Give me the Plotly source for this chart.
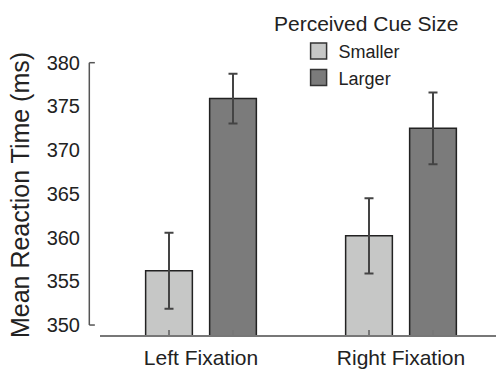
import plotly.graph_objects as go

conditions = ["Left Fixation", "Right Fixation"]
cue_sizes = ["Smaller", "Larger"]
smaller_means = [356.2, 360.2]
smaller_errors = [4.35, 4.3]
larger_means = [375.9, 372.5]
larger_errors = [2.85, 4.1]
y_ticks = [350, 355, 360, 365, 370, 375, 380]

bar_colors = ["#c6c7c6", "#7b7b7b"]
FONT = "Liberation Sans, Arial, sans-serif"
TXT = "#222222"

Y_RANGE = [348.86, 380.88]
bargap = 0.36
bargroupgap = 0.27
x_pos = list(range(len(conditions)))
offset = (1 - bargap) / 4
bar_centers = [p + s * offset for p in x_pos for s in (-1, 1)]

fig = go.Figure()
for name, means, errs, color in zip(cue_sizes, [smaller_means, larger_means],
                                    [smaller_errors, larger_errors], bar_colors):
    fig.add_trace(go.Bar(
        x=x_pos, y=means, name=name, showlegend=False,
        marker=dict(color=color, line=dict(color="#222222", width=1.5)),
        error_y=dict(type="data", array=errs, visible=True, color="#444444",
                     thickness=2, width=4.5)))
    fig.add_trace(go.Scatter(
        x=[None], y=[None], mode="markers", name=name, xaxis="x2",
        marker=dict(symbol="square", size=16, color=color,
                    line=dict(color="#333333", width=1.5))))


def to_paper(v):
    return (v - Y_RANGE[0]) / (Y_RANGE[1] - Y_RANGE[0])


# y-axis bracket spanning the tick range
yb0, yb1 = to_paper(y_ticks[0]), to_paper(y_ticks[-1])
bx0, bx1 = -0.027, -0.013
bracket = dict(color="#555555", width=1.5)
fig.add_shape(type="line", xref="paper", yref="paper", x0=bx0, x1=bx0,
              y0=yb0, y1=yb1, line=bracket)
fig.add_shape(type="line", xref="paper", yref="paper", x0=bx0, x1=bx1,
              y0=yb0, y1=yb0, line=bracket)
fig.add_shape(type="line", xref="paper", yref="paper", x0=bx0, x1=bx1,
              y0=yb1, y1=yb1, line=bracket)

fig.add_annotation(text="Perceived Cue Size", xref="paper", yref="paper",
                   x=0.435, y=1.114, xanchor="left", yanchor="middle",
                   showarrow=False, font=dict(size=21, color=TXT, family=FONT))

fig.update_layout(
    width=496, height=370,
    margin=dict(l=100, r=0, t=55, b=35, autoexpand=False),
    paper_bgcolor="white", plot_bgcolor="white",
    barmode="group", bargap=bargap, bargroupgap=bargroupgap,
    font=dict(family=FONT, color=TXT),
    legend=dict(x=0.5015, y=1.079, xanchor="left", yanchor="top",
                font=dict(size=18, color=TXT, family=FONT),
                bgcolor="rgba(0,0,0,0)", itemwidth=30),
    xaxis=dict(range=[-0.505, 1.475], tickvals=x_pos, ticktext=conditions,
               showline=True, linecolor="#777777", linewidth=2,
               ticks="outside", ticklen=3, tickcolor="rgba(0,0,0,0)",
               automargin=False, showgrid=False, zeroline=False,
               tickfont=dict(size=21, color=TXT, family=FONT)),
    xaxis2=dict(overlaying="x", matches="x", anchor="y", side="bottom",
                tickvals=bar_centers, ticks="inside", ticklen=5,
                tickcolor="#777777", tickwidth=1.5, showticklabels=False,
                showline=False, showgrid=False, zeroline=False),
    yaxis=dict(range=Y_RANGE, tickvals=y_ticks, automargin=False,
               ticks="outside", ticklen=15, tickcolor="rgba(0,0,0,0)",
               showline=False, showgrid=False, zeroline=False,
               tickfont=dict(size=20, color=TXT, family=FONT),
               title=dict(text="Mean Reaction Time (ms)", standoff=9,
                          font=dict(size=25, color=TXT, family=FONT))),
)

fig.write_html("out.html", config={"displayModeBar": False},
               post_script="document.body.style.margin='0px';")
